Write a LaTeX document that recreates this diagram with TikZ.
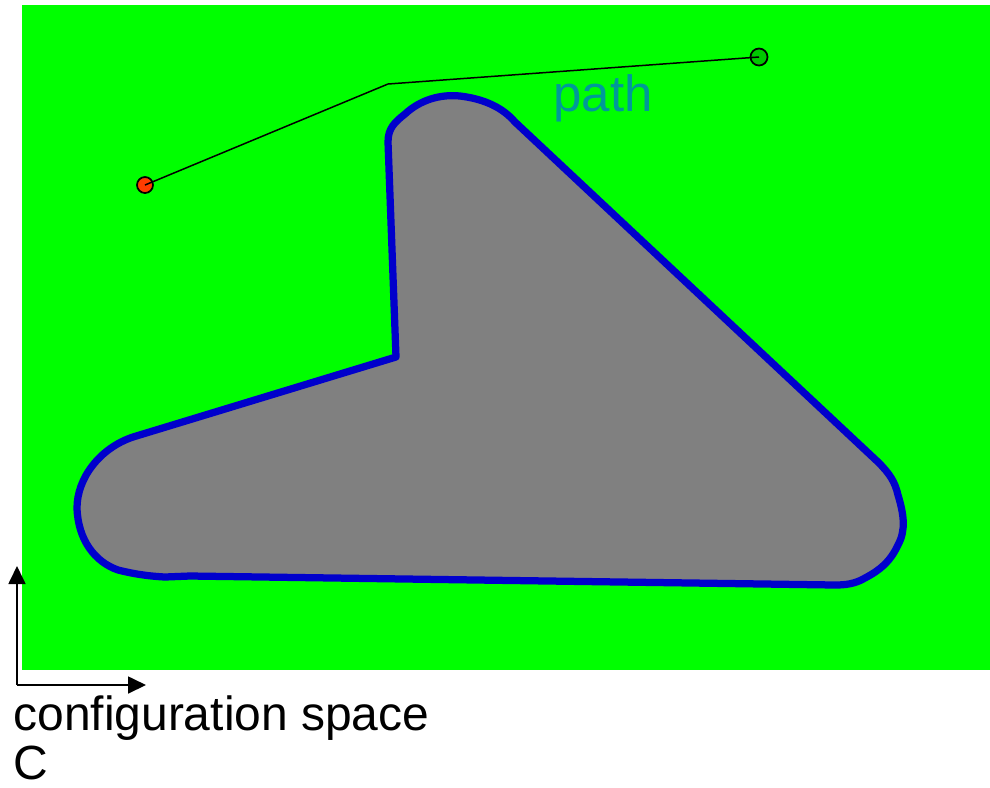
\documentclass[tikz,border=0pt]{standalone}
\usepackage{fontspec}
\setmainfont{Liberation Sans}
\usepackage{tikz}
\usetikzlibrary{arrows.meta}

\definecolor{freegreen}{RGB}{0,255,0}
\definecolor{obstgray}{RGB}{128,128,128}
\definecolor{obstblue}{RGB}{0,0,204}
\definecolor{pathteal}{RGB}{0,153,153}
\definecolor{startred}{RGB}{255,60,0}
\definecolor{goalgreen}{RGB}{0,200,0}

\tikzset{
  endpoint/.style={circle,draw=black,line width=0.35mm,inner sep=0pt,minimum size=3.2mm},
  axisarrow/.style={-{Triangle[length=3.6mm,width=3.4mm]},line width=0.35mm},
  caption/.style={anchor=base west,inner sep=0pt,font=\fontsize{27.3}{30}\selectfont}
}

\begin{document}
\begin{tikzpicture}[x=0.2mm,y=-0.2mm]
\useasboundingbox (0,0) rectangle (990,787);
% free space
\fill[freegreen] (22,5) rectangle (990,670);
% obstacle
\draw[obstblue,fill=obstgray,line width=1.45mm,line join=round]
  (396,357) -- (388,142) .. controls (388,128) and (395,122) .. (405,114)
  .. controls (420,100) and (440,94) .. (460,96)
  .. controls (485,99) and (503,108) .. (515,122)
  -- (878,462) .. controls (890,474) and (895,482) .. (898,495)
  .. controls (904,515) and (906,530) .. (898,545)
  .. controls (890,562) and (880,570) .. (865,578)
  .. controls (855,584) and (845,585) .. (835,585)
  -- (190,576) -- (165,577) .. controls (145,576) and (130,573) .. (118,570)
  .. controls (95,562) and (78,540) .. (77,508)
  .. controls (77,478) and (100,448) .. (133,437)
  -- cycle;
% path
\node[endpoint,fill=startred] (start) at (145,185) {};
\node[endpoint,fill=goalgreen,minimum size=3.4mm] (goal) at (759,57) {};
\coordinate (bend) at (388,84);
\draw[line width=0.3mm] (start.center) -- (bend) -- (goal.center);
\node[text=pathteal,font=\fontsize{29}{32}\selectfont,inner sep=0pt] (pathlabel) at (603,98) {path};
% axes
\coordinate (origin) at (17,685);
\coordinate (yend) at (17,566);
\coordinate (xend) at (146,685);
\draw[axisarrow] (origin) -- (yend);
\draw[axisarrow] (origin) -- (xend);
\node[caption] (cspace) at (13,730) {configuration space};
\node[caption] (cname) at (13,779) {C};
\end{tikzpicture}
\end{document}
